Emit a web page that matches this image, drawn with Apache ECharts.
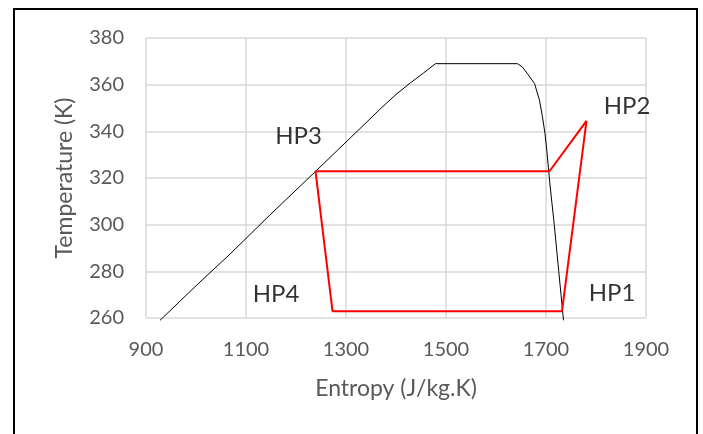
<!DOCTYPE html>
<html>
<head>
<meta charset="utf-8">
<script src="https://cdn.jsdelivr.net/npm/echarts@6/dist/echarts.min.js"></script>
<style>
html,body{margin:0;padding:0;background:#fff;}
#c{width:703px;height:434px;}
</style>
</head>
<body>
<div id="c"></div>
<script>
// Saturation dome (entropy J/kg.K, temperature K)
var domeS = [928, 1000, 1070, 1150, 1239, 1283, 1330, 1370, 1400, 1429, 1455, 1479, 1643, 1653, 1663, 1677, 1687, 1693, 1698, 1701.5, 1704.7, 1707.5, 1712, 1716.5, 1721, 1725.5, 1730, 1735];
var domeT = [259, 273.8, 287.8, 304.6, 322.8, 331.9, 341.6, 349.9, 355.8, 360.8, 365, 369, 369, 367.5, 364.7, 360.5, 353.3, 346.1, 339, 331.9, 324.7, 318, 309, 300, 290, 280, 270, 259];
// Heat pump cycle HP1 -> HP2 -> condenser -> HP3 -> HP4 -> HP1
var cycleS = [1732, 1781, 1707, 1239, 1273, 1732];
var cycleT = [262.9, 344.5, 322.9, 322.9, 262.9, 262.9];
// Point labels
var labelNames = ['HP1', 'HP2', 'HP3', 'HP4'];
var labelS = [1832, 1862, 1205, 1160];
var labelT = [270.6, 350.7, 337.7, 270];
// Axis ticks
var xMin = 900, xMax = 1900, xStep = 200;
var yMin = 260, yMax = 380, yStep = 20;

function pairs(a, b) { return a.map(function (v, i) { return [v, b[i]]; }); }
var labelData = labelNames.map(function (n, i) { return { name: n, value: [labelS[i], labelT[i]] }; });

var chart = echarts.init(document.getElementById('c'), null, { renderer: 'canvas' });
var fontFam = 'Lato, "Noto Sans", sans-serif';
chart.setOption({
  backgroundColor: '#ffffff',
  animation: false,
  grid: { left: 146, right: 57, top: 38, bottom: 116, containLabel: false },
  graphic: [{
    type: 'rect', silent: true, z: 100,
    shape: { x: 14, y: 9, width: 683, height: 450 },
    style: { fill: 'none', stroke: '#000', lineWidth: 2 }
  }],
  xAxis: {
    type: 'value', min: xMin, max: xMax, interval: xStep,
    name: 'Entropy (J/kg.K)', nameLocation: 'middle', nameGap: 59,
    nameTextStyle: { color: '#595959', fontSize: 23, fontFamily: fontFam },
    axisLine: { show: false }, axisTick: { show: false },
    axisLabel: { color: '#595959', fontSize: 20, fontFamily: fontFam, margin: 22,
      formatter: function (v) { return String(v); } },
    splitLine: { show: true, lineStyle: { color: '#d9d9d9', width: 1.5 } }
  },
  yAxis: {
    type: 'value', min: yMin, max: yMax, interval: yStep,
    name: 'Temperature (K)', nameLocation: 'middle', nameGap: 70,
    nameTextStyle: { color: '#595959', fontSize: 23, fontFamily: fontFam },
    axisLine: { show: false }, axisTick: { show: false },
    axisLabel: { color: '#595959', fontSize: 20, fontFamily: fontFam, margin: 22,
      formatter: function (v) { return String(v); } },
    splitLine: { show: true, lineStyle: { color: '#d9d9d9', width: 1.5 } }
  },
  series: [
    {
      type: 'line', data: pairs(domeS, domeT), showSymbol: false, clip: false,
      lineStyle: { color: '#000', width: 1 }, z: 3
    },
    {
      type: 'line', data: pairs(cycleS, cycleT), showSymbol: false, clip: false,
      lineStyle: { color: '#ff0000', width: 2 }, z: 4
    },
    {
      type: 'scatter', data: labelData, symbolSize: 1,
      itemStyle: { color: 'rgba(0,0,0,0)' },
      label: {
        show: true, position: 'inside', formatter: '{b}',
        color: '#000', fontSize: 24, fontFamily: fontFam
      }, z: 5
    }
  ]
});
</script>
</body>
</html>
